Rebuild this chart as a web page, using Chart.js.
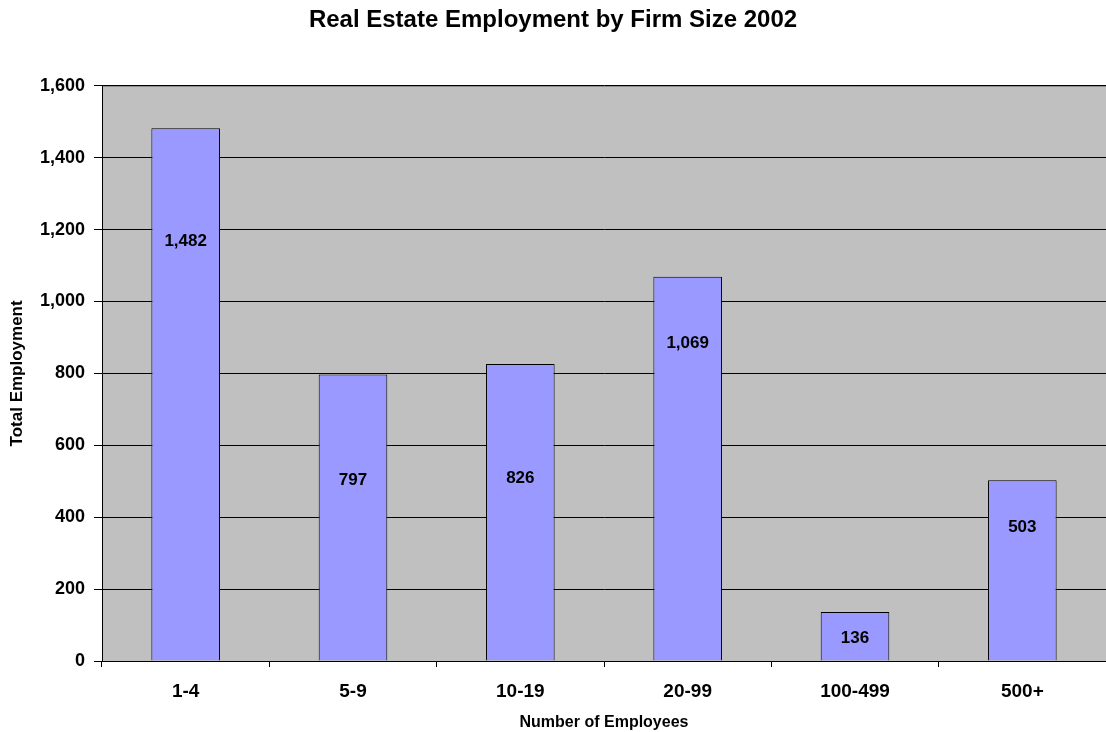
<!DOCTYPE html>
<html>
<head>
<meta charset="utf-8">
<title>Real Estate Employment by Firm Size 2002</title>
<script src="https://cdn.jsdelivr.net/npm/chart.js@4"></script>
<style>
    html, body { margin: 0; padding: 0; background: #fff; }
    #wrap { width: 1106px; height: 732px; }
</style>
</head>
<body>
<div id="wrap"><canvas id="employmentChart"></canvas></div>
<script>
const firmSizes = ['1-4', '5-9', '10-19', '20-99', '100-499', '500+'];
const employment = [1482, 797, 826, 1069, 136, 503];
const yTicks = [0, 200, 400, 600, 800, 1000, 1200, 1400, 1600];

// how far below the bar top each value label sits (px)
const labelDrop = [113, 106, 114, 67, 26, 47];

const fmt = v => v.toLocaleString('en-US');

// grey plot background with a thin line along its top
const plotBackground = {
    id: 'plotBackground',
    beforeDraw(chart) {
        const { ctx, chartArea: a } = chart;
        ctx.save();
        ctx.fillStyle = '#c0c0c0';
        ctx.fillRect(a.left, a.top, a.right - a.left, a.bottom - a.top);
        ctx.strokeStyle = '#808080';
        ctx.lineWidth = 1;
        ctx.beginPath();
        ctx.moveTo(a.left, a.top + 0.5);
        ctx.lineTo(a.right, a.top + 0.5);
        ctx.stroke();
        ctx.restore();
    }
};

const valueLabels = {
    id: 'valueLabels',
    afterDatasetsDraw(chart) {
        const { ctx } = chart;
        const meta = chart.getDatasetMeta(0);
        ctx.save();
        ctx.font = 'bold 17px "Liberation Sans", Arial, sans-serif';
        ctx.fillStyle = '#000';
        ctx.textAlign = 'center';
        ctx.textBaseline = 'middle';
        meta.data.forEach((bar, i) => {
            ctx.fillText(fmt(employment[i]), bar.x, bar.y + labelDrop[i]);
        });
        ctx.restore();
    }
};

Chart.defaults.font.family = '"Liberation Sans", Arial, sans-serif';
Chart.defaults.color = '#000';

const ctx = document.getElementById('employmentChart').getContext('2d');
new Chart(ctx, {
    type: 'bar',
    data: {
        labels: firmSizes,
        datasets: [{
            data: employment,
            backgroundColor: '#9999ff',
            borderColor: '#000',
            borderWidth: 1,
            barPercentage: 0.41,
            categoryPercentage: 1
        }]
    },
    options: {
        responsive: true,
        maintainAspectRatio: false,
        animation: false,
        layout: { padding: 0 },
        plugins: {
            legend: { display: false },
            tooltip: { enabled: false },
            title: {
                display: true,
                text: 'Real Estate Employment by Firm Size 2002',
                font: { size: 24, weight: 'bold' },
                padding: { top: 6, bottom: 51 }
            }
        },
        scales: {
            x: {
                grid: {
                    offset: true,
                    drawOnChartArea: false,
                    drawTicks: true,
                    tickLength: 6,
                    color: '#000'
                },
                border: { color: '#000', width: 1 },
                ticks: { font: { size: 19, weight: 'bold' }, padding: 13, maxRotation: 0 },
                title: {
                    display: true,
                    text: 'Number of Employees',
                    font: { size: 16, weight: 'bold' },
                    padding: { top: 0, bottom: 0 }
                },
                afterFit(scale) { scale.height = 71; }
            },
            y: {
                min: 0,
                max: 1600,
                afterBuildTicks(scale) { scale.ticks = yTicks.map(v => ({ value: v })); },
                grid: { color: '#000', tickLength: 8, lineWidth: 1 },
                border: { color: '#000', width: 1 },
                ticks: {
                    font: { size: 18, weight: 'bold' },
                    padding: 9,
                    callback: v => fmt(v)
                },
                title: {
                    display: true,
                    text: 'Total Employment',
                    font: { size: 17, weight: 'bold' },
                    padding: { top: 7, bottom: 0 }
                },
                afterFit(scale) { scale.width = 102; }
            }
        }
    },
    plugins: [plotBackground, valueLabels]
});
</script>
</body>
</html>
